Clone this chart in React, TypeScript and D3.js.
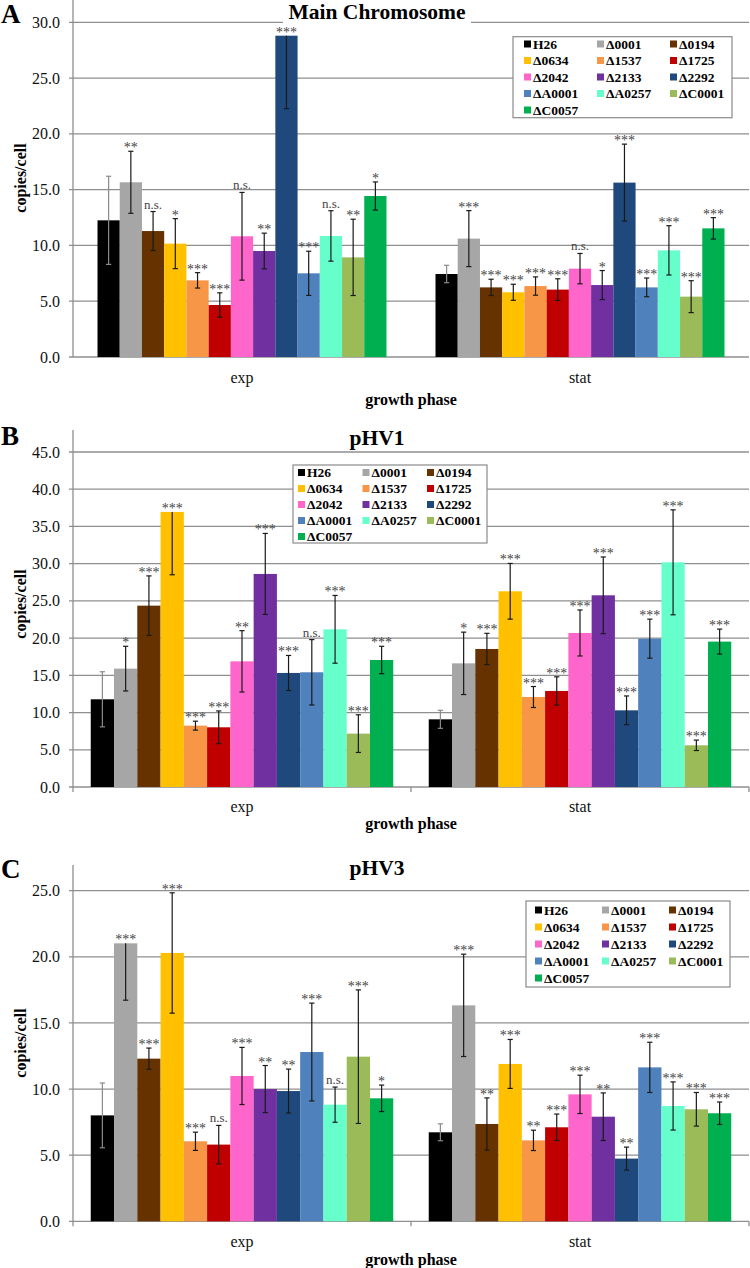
import * as d3 from 'd3';

const strains = ['H26', 'Δ0001', 'Δ0194', 'Δ0634', 'Δ1537', 'Δ1725', 'Δ2042', 'Δ2133', 'Δ2292', 'ΔA0001', 'ΔA0257', 'ΔC0001', 'ΔC0057'];
const strainColors = ['#000000', '#a6a6a6', '#663300', '#ffc000', '#f79646', '#c00000', '#ff66cc', '#7030a0', '#1f497d', '#4f81bd', '#66ffcc', '#9bbb59', '#00b050'];
const phases = ['exp', 'stat'];

// Main chromosome
const mainExp = [12.25, 15.66, 11.29, 10.16, 6.87, 4.66, 10.82, 9.5, 28.8, 7.5, 10.85, 8.93, 14.43];
const mainExpSd = [3.95, 2.78, 1.75, 2.24, 0.69, 1.09, 3.93, 1.6, 6.54, 1.98, 2.26, 3.42, 1.26];
const mainExpSig = ['', '**', 'n.s.', '*', '***', '***', 'n.s.', '**', '***', '***', 'n.s.', '**', '*'];
const mainStat = [7.44, 10.61, 6.24, 5.8, 6.36, 6.04, 7.92, 6.45, 15.63, 6.24, 9.56, 5.41, 11.53];
const mainStatSd = [0.78, 2.51, 0.73, 0.72, 0.82, 0.97, 1.36, 1.3, 3.45, 0.84, 2.21, 1.43, 0.96];
const mainStatSig = ['', '***', '***', '***', '***', '***', 'n.s.', '*', '***', '***', '***', '***', '***'];

// pHV1
const hv1Exp = [11.78, 15.9, 24.36, 36.95, 8.24, 8.02, 16.88, 28.62, 15.32, 15.41, 21.18, 7.17, 17.06];
const hv1ExpSd = [3.7, 3.0, 4.0, 8.44, 0.6, 2.2, 4.12, 5.44, 2.35, 4.39, 4.55, 2.53, 1.84];
const hv1ExpSig = ['', '*', '***', '***', '***', '***', '**', '***', '***', 'n.s.', '***', '***', '***'];
const hv1Stat = [9.09, 16.61, 18.54, 26.29, 12.09, 12.9, 20.69, 25.75, 10.3, 19.93, 30.18, 5.6, 19.53];
const hv1StatSd = [1.21, 4.19, 2.1, 3.74, 1.41, 1.9, 3.09, 5.15, 1.93, 2.62, 7.05, 0.7, 1.68];
const hv1StatSig = ['', '*', '***', '***', '***', '***', '***', '***', '***', '***', '***', '***', '***'];

// pHV3
const hv3Exp = [8.01, 21.02, 12.3, 20.29, 6.05, 5.8, 10.99, 10.0, 9.85, 12.8, 8.82, 12.45, 9.3];
const hv3ExpSd = [2.45, 4.3, 0.8, 4.55, 0.69, 1.45, 2.16, 1.78, 1.66, 3.7, 1.33, 5.05, 1.0];
const hv3ExpSig = ['', '***', '***', '***', '***', 'n.s.', '***', '**', '**', '***', 'n.s.', '***', '*'];
const hv3Stat = [6.73, 16.33, 7.36, 11.9, 6.12, 7.11, 9.6, 7.91, 4.74, 11.64, 8.72, 8.47, 8.17];
const hv3StatSd = [0.64, 3.87, 1.97, 1.85, 0.77, 1.0, 1.45, 1.8, 0.87, 1.9, 1.82, 1.27, 0.85];
const hv3StatSig = ['', '***', '**', '***', '**', '***', '***', '**', '**', '***', '***', '***', '***'];

const ticksMain = [0, 5, 10, 15, 20, 25, 30];
const ticksHv1 = [0, 5, 10, 15, 20, 25, 30, 35, 40, 45];
const ticksHv3 = [0, 5, 10, 15, 20, 25];

const SERIF = "'Liberation Serif', 'DejaVu Serif', serif";
const GRID = '#8f8f8f';
const fmt = d3.format('.1f');

const panels = [
  {
    letter: 'A', letterY: 23, title: 'Main Chromosome', titleY: 19, titleBg: [283, 471],
    ticks: ticksMain, baseY: 357, topY: 22.3, axisTop: 0, frac: 0.855, xTicks: false,
    means: [mainExp, mainStat], sds: [mainExpSd, mainStatSd], sigs: [mainExpSig, mainStatSig],
    legend: { x: 513, y: 36.7, w: 219, h: 81, textX: 533, step: 73, row0: 44, rowStep: 16.5 },
    yTitleY: 178, catY: 383, phaseY: 405,
  },
  {
    letter: 'B', letterY: 445, title: 'pHV1', titleY: 445, titleBg: null,
    ticks: ticksHv1, baseY: 787, topY: 452, axisTop: 430, frac: 0.895, xTicks: true,
    means: [hv1Exp, hv1Stat], sds: [hv1ExpSd, hv1StatSd], sigs: [hv1ExpSig, hv1StatSig],
    legend: { x: 293, y: 465, w: 194, h: 78, textX: 307, step: 64.5, row0: 472.5, rowStep: 16 },
    yTitleY: 604, catY: 812, phaseY: 829,
  },
  {
    letter: 'C', letterY: 878, title: 'pHV3', titleY: 875, titleBg: null,
    ticks: ticksHv3, baseY: 1221.3, topY: 890.7, axisTop: 865, frac: 0.895, xTicks: true,
    means: [hv3Exp, hv3Stat], sds: [hv3ExpSd, hv3StatSd], sigs: [hv3ExpSig, hv3StatSig],
    legend: { x: 526, y: 901, w: 204, h: 86, textX: 544, step: 67, row0: 910, rowStep: 17 },
    yTitleY: 1043, catY: 1247, phaseY: 1265,
  },
];

const X0 = 73;
const X1 = 749;

function Panel({ p }: { p: typeof panels[0] }) {
  const yMax = p.ticks[p.ticks.length - 1];
  const y = d3.scaleLinear().domain([0, yMax]).range([p.baseY, p.topY]);
  const x = d3.scaleBand().domain(phases).range([X0, X1]);
  const bw = x.bandwidth();
  const pad = (bw * (1 - p.frac)) / 2;
  const inner = d3.scaleBand().domain(strains).range([pad, bw - pad]);
  const w = inner.bandwidth();

  return (
    <g>
      {/* gridlines */}
      {p.ticks.map((t) => (
        <g key={t}>
          <line x1={X0 - 4} x2={X1} y1={y(t)} y2={y(t)} stroke={GRID} strokeWidth={1.3} />
          <text x={60} y={y(t)} dy="0.35em" textAnchor="end" fontSize={16} fill="#111">
            {fmt(t)}
          </text>
        </g>
      ))}
      <line x1={X0} x2={X0} y1={p.axisTop} y2={p.baseY + (p.xTicks ? 5 : 0)} stroke={GRID} strokeWidth={1.3} />
      {p.xTicks && [X0 + bw, X1].map((tx) => (
        <line key={tx} x1={tx} x2={tx} y1={p.baseY} y2={p.baseY + 5} stroke={GRID} strokeWidth={1.3} />
      ))}
      {p.titleBg && (
        <rect x={p.titleBg[0]} y={0} width={p.titleBg[1] - p.titleBg[0]} height={26} fill="#fff" />
      )}

      {/* bars */}
      {phases.map((ph, gi) => (
        <g key={ph} transform={`translate(${x(ph)},0)`}>
          {strains.map((s, i) => {
            const v = p.means[gi][i];
            const sd = p.sds[gi][i];
            const bx = inner(s)!;
            const cx = bx + w / 2;
            const clipped = v + sd > yMax;
            const hi = clipped ? v : v + sd;
            const lo = v - sd;
            const ec = i === 0 ? '#8a8a8a' : '#1a1a1a';
            const sig = p.sigs[gi][i];
            return (
              <g key={s}>
                <rect x={bx} y={y(v)} width={w} height={p.baseY - y(v)} fill={strainColors[i]} />
                <line x1={cx} x2={cx} y1={y(hi)} y2={y(lo)} stroke={ec} strokeWidth={1.2} />
                {!clipped && <line x1={cx - 2.6} x2={cx + 2.6} y1={y(hi)} y2={y(hi)} stroke={ec} strokeWidth={1.2} />}
                <line x1={cx - 2.6} x2={cx + 2.6} y1={y(lo)} y2={y(lo)} stroke={ec} strokeWidth={1.2} />
                {sig && (
                  <text
                    x={cx}
                    y={y(hi) - (sig === 'n.s.' ? 3 : -1)}
                    textAnchor="middle"
                    fontSize={sig === 'n.s.' ? 13 : 14}
                    fill="#444"
                  >
                    {sig}
                  </text>
                )}
              </g>
            );
          })}
          <text x={bw / 2} y={p.catY} textAnchor="middle" fontSize={16} fill="#111">
            {ph}
          </text>
        </g>
      ))}

      {/* titles */}
      <text x={1} y={p.letterY} fontWeight="bold" fontSize={27} fill="#000">{p.letter}</text>
      <text x={377} y={p.titleY} textAnchor="middle" fontWeight="bold" fontSize={21.5} fill="#000">
        {p.title}
      </text>
      <text
        transform={`translate(26,${p.yTitleY}) rotate(-90)`}
        textAnchor="middle"
        fontWeight="bold"
        fontSize={16}
        fill="#000"
      >
        copies/cell
      </text>
      <text x={(X0 + X1) / 2} y={p.phaseY} textAnchor="middle" fontWeight="bold" fontSize={16} fill="#000">
        growth phase
      </text>

      {/* legend */}
      <rect x={p.legend.x} y={p.legend.y} width={p.legend.w} height={p.legend.h} fill="#fff" stroke="#8a8a8a" strokeWidth={1.2} />
      {strains.map((s, i) => {
        const col = i % 3;
        const row = Math.floor(i / 3);
        const tx = p.legend.textX + col * p.legend.step;
        const ty = p.legend.row0 + row * p.legend.rowStep;
        return (
          <g key={s}>
            <rect x={tx - 9} y={ty - 3.5} width={7} height={7} fill={strainColors[i]} />
            <text x={tx} y={ty} dy="0.35em" fontWeight="bold" fontSize={13.5} fill="#000">
              {s}
            </text>
          </g>
        );
      })}
    </g>
  );
}

export default function App() {
  return (
    <svg
      width={750}
      height={1268}
      viewBox="0 0 750 1268"
      style={{ position: 'absolute', left: 0, top: 0, background: '#fff', fontFamily: SERIF }}
    >
      <rect width={750} height={1268} fill="#fff" />
      {panels.map((p) => (
        <Panel key={p.letter} p={p} />
      ))}
    </svg>
  );
}
